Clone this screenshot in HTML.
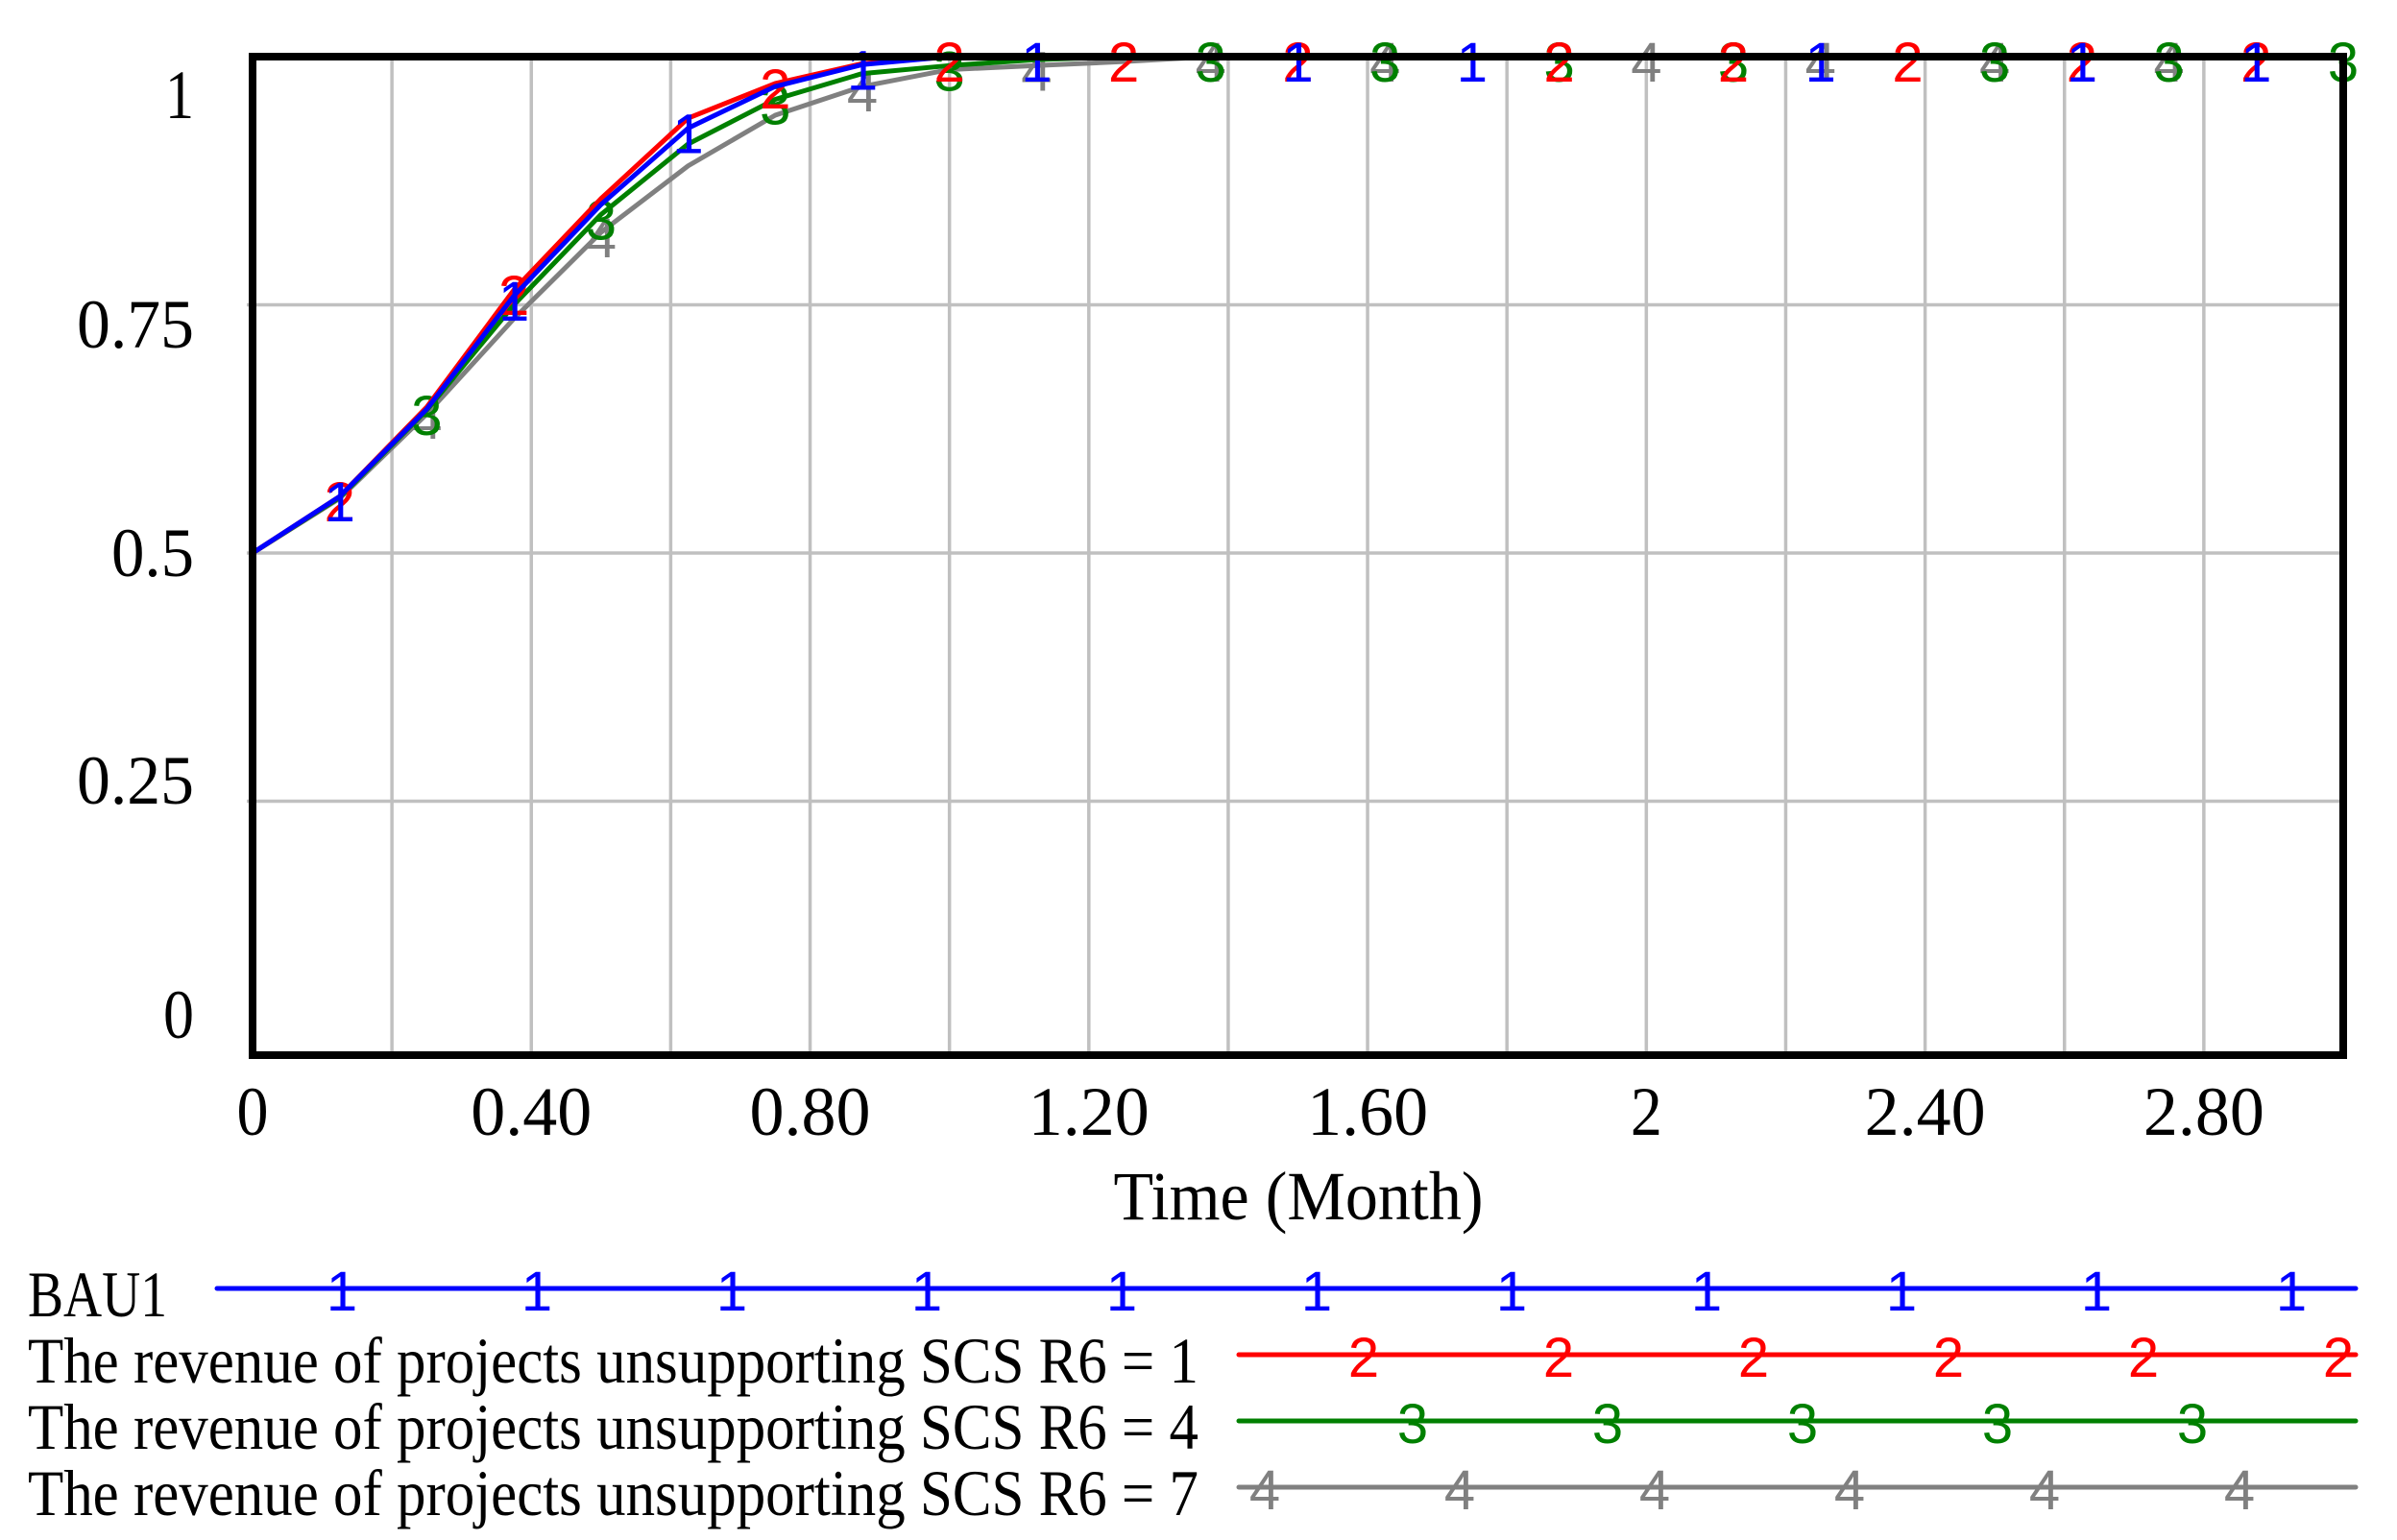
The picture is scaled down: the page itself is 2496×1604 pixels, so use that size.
<!DOCTYPE html>
<html><head><meta charset="utf-8"><style>
html,body{margin:0;padding:0;background:#fff;}
svg{display:block;}
text{font-family:"Liberation Serif",serif;}
.mk{font-family:"Liberation Sans",sans-serif;font-size:58px;text-anchor:middle;}
</style></head><body>
<svg id="chart" width="2496" height="1604" viewBox="0 0 2496 1604" xmlns="http://www.w3.org/2000/svg">
<g id="grid"></g>
<g id="series"></g>
<rect x="263" y="59" width="2177" height="1040" fill="none" stroke="#000" stroke-width="8"/>
<g id="axes"></g>
<text x="1352" y="1270" font-size="72" text-anchor="middle" textLength="385" lengthAdjust="spacingAndGlyphs">Time (Month)</text>
<g id="legend"></g>
</svg>
<script>
const times = [0,0.125,0.25,0.375,0.5,0.625,0.75,0.875,1.0,1.125,1.25,1.375,1.5,3.0];
const bau1 = [0.5,0.557,0.645,0.759,0.851,0.928,0.970,0.992,1.0,1.0,1.0,1.0,1.0,1.0];
const r6eq1 = [0.5,0.557,0.647,0.765,0.857,0.938,0.973,0.993,1.0,1.0,1.0,1.0,1.0,1.0];
const r6eq4 = [0.5,0.556,0.644,0.750,0.841,0.912,0.957,0.983,0.991,0.997,1.0,1.0,1.0,1.0];
const r6eq7 = [0.5,0.555,0.640,0.736,0.823,0.890,0.941,0.970,0.987,0.991,0.995,1.0,1.0,1.0];
const marks1 = [0.125,0.375,0.625,0.875,1.125,1.5,1.75,2.25,2.625,2.875];
const marks2 = [0.125,0.375,0.75,1.0,1.25,1.5,1.875,2.125,2.375,2.625,2.875];
const marks3 = [0.25,0.5,0.75,1.0,1.375,1.625,1.875,2.125,2.5,2.75,3.0];
const marks4 = [0.25,0.5,0.875,1.125,1.375,1.625,2.0,2.25,2.5,2.75];
const xTicks = [0,0.4,0.8,1.2,1.6,2.0,2.4,2.8];
const xTickLabels = ["0","0.40","0.80","1.20","1.60","2","2.40","2.80"];
const yTicks = [0,0.25,0.5,0.75,1];
const yTickLabels = ["0","0.25","0.5","0.75","1"];
const legendLabels = ["BAU1","The revenue of projects unsupporting SCS R6 = 1","The revenue of projects unsupporting SCS R6 = 4","The revenue of projects unsupporting SCS R6 = 7"];

const NS="http://www.w3.org/2000/svg";
const X0=263,X1=2440,Y0=1093,Y1=59;
function sx(t){return X0+(t/3)*(X1-X0);}
function sy(v){return Y0-v*(Y0-Y1);}
function mk(tag,attrs,parent){const e=document.createElementNS(NS,tag);for(const k in attrs)e.setAttribute(k,attrs[k]);parent.appendChild(e);return e;}
function interp(arr,t){for(let i=0;i<times.length-1;i++){if(t>=times[i]&&t<=times[i+1]){const f=(t-times[i])/(times[i+1]-times[i]);return arr[i]+f*(arr[i+1]-arr[i]);}}return arr[arr.length-1];}

const grid=document.getElementById('grid');
for(let k=1;k<15;k++){const t=k*0.2;const l=mk('line',{x1:sx(t),x2:sx(t),y1:Y1,y2:Y0+6,stroke:'#c0c0c0','stroke-width':3.5},grid);

}
yTicks.forEach(v=>{if(v===0||v===1)return;const l=mk('line',{x1:X0-6,x2:X1,y1:sy(v),y2:sy(v),stroke:'#c0c0c0','stroke-width':3.5},grid);

});

const axes=document.getElementById('axes');
const yW={"0":32,"0.25":122,"0.5":86,"0.75":122,"1":30};
const yBase=[1081,837,600,362,123];
yTicks.forEach((v,i)=>{const t=mk('text',{x:202,y:yBase[i],'font-size':72,'text-anchor':'end',textLength:yW[yTickLabels[i]],lengthAdjust:'spacingAndGlyphs'},axes);t.textContent=yTickLabels[i];

});
xTicks.forEach((v,i)=>{const s=xTickLabels[i];const t=mk('text',{x:sx(v),y:1182,'font-size':72,'text-anchor':'middle',textLength:s.length===1?33:126,lengthAdjust:'spacingAndGlyphs'},axes);t.textContent=s;

});

const ser=document.getElementById('series');
const order=[[r6eq7,marks4,'#808080','4','series-r6-7'],[r6eq4,marks3,'#008000','3','series-r6-4'],[r6eq1,marks2,'#ff0000','2','series-r6-1'],[bau1,marks1,'#0000ff','1','series-bau1']];
order.forEach(([arr,marks,col,lab,name])=>{
 const g=mk('g',{},ser);
 
 
 const pts=times.map((t,i)=>sx(t)+','+sy(arr[i])).join(' ');
 const pl=mk('polyline',{points:pts,fill:'none',stroke:col,'stroke-width':5,'stroke-linejoin':'round'},g);
 
 
 marks.forEach(t=>{const tx=mk('text',{x:sx(t),y:sy(interp(arr,t))+26,fill:col,'class':'mk'},g);tx.textContent=lab;
 
 });
});

const leg=document.getElementById('legend');
const lBase=[1371,1440,1509,1578];
const lLineY=[1342,1411,1480,1549];
const lStart=[226,1290,1290,1290];
const lCols=['#0000ff','#ff0000','#008000','#808080'];
const lW=[145,1219,1219,1219];
const lMarkStart=[356,1420,1471,1317];
const lMarkCount=[11,6,5,6];
legendLabels.forEach((s,i)=>{
 const g=mk('g',{},leg);
 
 
 const t=mk('text',{x:29,y:lBase[i],'font-size':68,textLength:lW[i],lengthAdjust:'spacingAndGlyphs'},g);t.textContent=s;
 
 
 const l=mk('line',{x1:lStart[i],x2:2453,y1:lLineY[i],y2:lLineY[i],stroke:lCols[i],'stroke-width':5,'stroke-linecap':'round'},g);
 
 
 for(let k=0;k<lMarkCount[i];k++){const m=mk('text',{x:lMarkStart[i]+k*203,y:lLineY[i]+23,fill:lCols[i],'class':'mk'},g);m.textContent=String(i+1);
 
 }
});
</script>
</body></html>
